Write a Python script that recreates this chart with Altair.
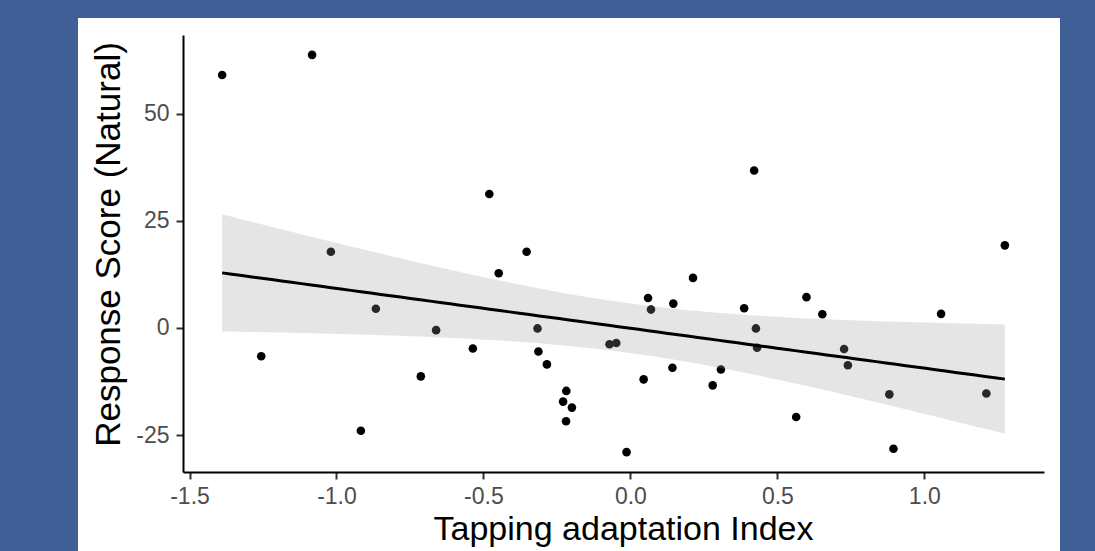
import altair as alt
import numpy as np
import pandas as pd

# Values
x_vals = [-1.389, -1.083, -1.256, -1.019, -0.917, -0.866, -0.661, -0.713, -0.536, -0.480,
          -0.448, -0.353, -0.316, -0.313, -0.284, -0.218, -0.229, -0.199, -0.219, -0.071,
          -0.048, -0.013, 0.045, 0.060, 0.070, 0.143, 0.146, 0.213, 0.280, 0.308,
          0.387, 0.421, 0.427, 0.431, 0.564, 0.599, 0.653, 0.727, 0.740, 0.881,
          0.895, 1.057, 1.211, 1.274]
y_vals = [59.1, 63.8, -6.6, 17.8, -24.0, 4.5, -0.5, -11.3, -4.8, 31.3,
          12.8, 17.8, -0.1, -5.5, -8.5, -14.7, -17.2, -18.6, -21.8, -3.8,
          -3.5, -29.0, -12.0, 7.0, 4.3, -9.3, 5.7, 11.7, -13.4, -9.7,
          4.6, 36.8, -0.1, -4.6, -20.8, 7.2, 3.2, -4.9, -8.7, -15.5,
          -28.2, 3.3, -15.3, 19.3]

x_ticks = [-1.5, -1.0, -0.5, 0.0, 0.5, 1.0]
y_ticks = [-25, 0, 25, 50]

x_title = "Tapping adaptation Index"
y_title = "Response Score (Natural)"

# Linear fit with 95% confidence band (as geom_smooth(method = "lm"))
x = np.array(x_vals)
y = np.array(y_vals)
n = len(x)
xbar = x.mean()
Sxx = ((x - xbar) ** 2).sum()
b1 = ((x - xbar) * (y - y.mean())).sum() / Sxx
b0 = y.mean() - b1 * xbar
s = np.sqrt(((y - (b0 + b1 * x)) ** 2).sum() / (n - 2))
t_crit = 2.018  # t(0.975, df = 42)
grid = np.linspace(x.min(), x.max(), 80)
fit = b0 + b1 * grid
se = s * np.sqrt(1.0 / n + (grid - xbar) ** 2 / Sxx)
band = pd.DataFrame({"x": grid, "fit": fit, "lo": fit - t_crit * se, "hi": fit + t_crit * se})
pts = pd.DataFrame({"x": x_vals, "y": y_vals})

xr = x.max() - x.min()
yr = y.max() - y.min()
xdom = [float(x.min() - 0.05 * xr), float(x.max() + 0.05 * xr)]
ydom = [float(y.min() - 0.05 * yr), float(y.max() + 0.05 * yr)]

MINUS = "\u2212"
xaxis = alt.Axis(values=x_ticks, title=x_title, titlePadding=4, labelPadding=6, zindex=2,
                 titleFontSize=34, titleX=440,
                 labelExpr="replace(format(datum.value, '.1f'), '" + MINUS + "', '-')")
yaxis = alt.Axis(values=y_ticks, title=y_title, labelPadding=7, zindex=2,
                 titleFontSize=35, titleX=-57, titleY=209, titleBaseline="bottom",
                 titleAngle=270, titleAlign="center",
                 labelExpr="replace(format(datum.value, 'd'), '" + MINUS + "', '-')")
xscale = alt.Scale(domain=xdom, nice=False, zero=False)
yscale = alt.Scale(domain=ydom, nice=False, zero=False)

panel = alt.Chart(alt.Data(values=[{"a": 1}])).mark_rect(color="white").encode(
    x=alt.value(-105), x2=alt.value(877), y=alt.value(-17), y2=alt.value(540)
)

points = alt.Chart(pts).mark_circle(color="black", opacity=1, size=74).encode(
    x=alt.X("x:Q", scale=xscale, axis=xaxis),
    y=alt.Y("y:Q", scale=yscale, axis=yaxis),
)

ribbon = alt.Chart(band).mark_area(color="#999999", opacity=0.26).encode(
    x=alt.X("x:Q", scale=xscale, axis=xaxis),
    y=alt.Y("lo:Q", scale=yscale, axis=yaxis),
    y2="hi:Q",
)

line = alt.Chart(band).mark_line(color="black", strokeWidth=3).encode(
    x=alt.X("x:Q", scale=xscale, axis=xaxis),
    y=alt.Y("fit:Q", scale=yscale, axis=yaxis),
)

chart = alt.layer(panel, points, ribbon, line).properties(
    width=861,
    height=437,
    autosize=alt.AutoSizeParams(type="none"),
    padding={"left": 183, "top": 35, "right": 51, "bottom": 79},
    background="#3F5F96",
).configure_view(stroke=None).configure_axis(
    grid=False,
    domainColor="black",
    domainWidth=2,
    tickColor="#333333",
    tickWidth=2,
    tickSize=7,
    labelFont="Liberation Sans",
    labelFontSize=23,
    labelColor="#4D4D4D",
    titleFont="Liberation Sans",
    titleFontWeight="normal",
    titleColor="black",
)

chart.save("out.html", embed_options={"renderer": "svg", "actions": False})
